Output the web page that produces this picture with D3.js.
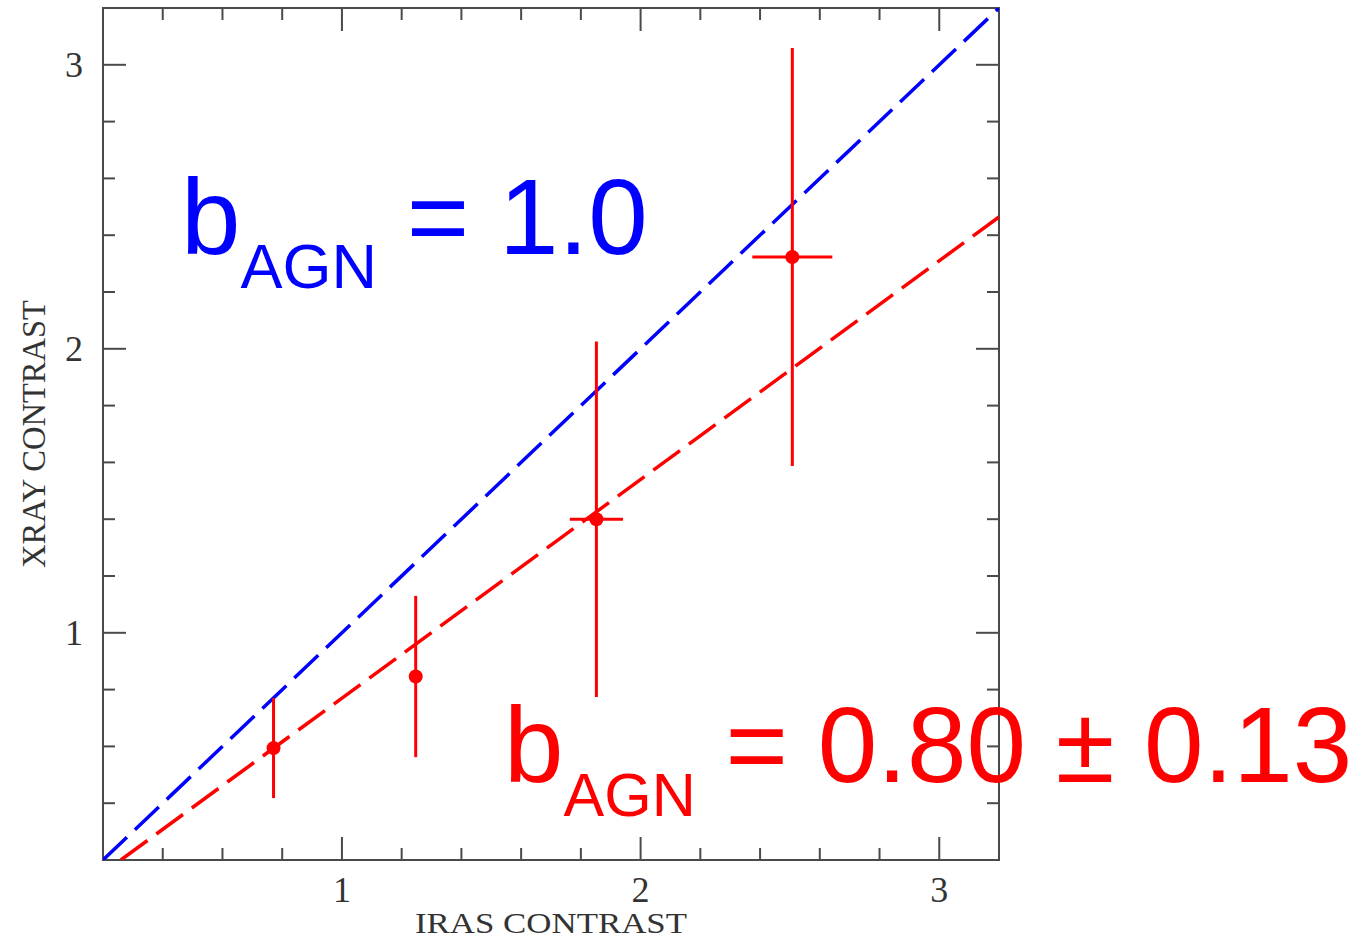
<!DOCTYPE html>
<html>
<head>
<meta charset="utf-8">
<script src="https://cdn.jsdelivr.net/npm/d3@7"></script>
<style>
  body { margin: 0; background: #fff; }
  .frame { fill: none; stroke: #4a4a4a; stroke-width: 2; }
  .tick { stroke: #4a4a4a; stroke-width: 2; }
  .ticklabel, .axislabel { font-family: "Liberation Serif", "DejaVu Serif", serif; fill: #333; }
  .big { font-family: "Liberation Sans", Arial, sans-serif; }
</style>
</head>
<body>
<div class="chart"></div>
<script>
// points
const irasContrast = [0.771, 1.247, 1.852, 2.508];
const irasErr      = [0.0,   0.0,   0.089, 0.134];
const xrayContrast = [0.594, 0.846, 1.400, 2.323];
const xrayErr      = [0.176, 0.284, 0.626, 0.736];

const majorTicks = [1, 2, 3];
const minorTicks = d3.range(2, 16).map(i => i / 5);
const axisDomain = [0.2, 3.2];

const unitySlope = 1.0;   // blue
const fitSlope = 0.77;    // red, drawn slope of the fit

const W = 1366, H = 943;
const margin = { left: 103, right: 367, top: 8, bottom: 83 };

const svg = d3.select(".chart").append("svg")
    .attr("width", W)
    .attr("height", H);

const x = d3.scaleLinear().domain(axisDomain).range([margin.left, W - margin.right]);
const y = d3.scaleLinear().domain(axisDomain).range([H - margin.bottom, margin.top]);

svg.append("clipPath").attr("id", "plotclip")
    .append("rect")
    .attr("x", x(axisDomain[0])).attr("y", y(axisDomain[1]))
    .attr("width", x(axisDomain[1]) - x(axisDomain[0]))
    .attr("height", y(axisDomain[0]) - y(axisDomain[1]));

// ticks on all four sides, pointing in
const tickG = svg.append("g");
function drawTicks(vals, len) {
    vals.forEach(v => {
        tickG.append("line").attr("class", "tick")
            .attr("x1", x(v)).attr("x2", x(v))
            .attr("y1", y(axisDomain[0])).attr("y2", y(axisDomain[0]) - len);
        tickG.append("line").attr("class", "tick")
            .attr("x1", x(v)).attr("x2", x(v))
            .attr("y1", y(axisDomain[1])).attr("y2", y(axisDomain[1]) + len);
        tickG.append("line").attr("class", "tick")
            .attr("y1", y(v)).attr("y2", y(v))
            .attr("x1", x(axisDomain[0])).attr("x2", x(axisDomain[0]) + len);
        tickG.append("line").attr("class", "tick")
            .attr("y1", y(v)).attr("y2", y(v))
            .attr("x1", x(axisDomain[1])).attr("x2", x(axisDomain[1]) - len);
    });
}
drawTicks(minorTicks.filter(v => !majorTicks.includes(v)), 12);
drawTicks(majorTicks, 23);

svg.append("g").selectAll("text").data(majorTicks).enter().append("text")
    .attr("class", "ticklabel")
    .attr("x", d => x(d))
    .attr("y", y(axisDomain[0]) + 42)
    .attr("text-anchor", "middle")
    .attr("font-size", 36)
    .text(d => d);

svg.append("g").selectAll("text").data(majorTicks).enter().append("text")
    .attr("class", "ticklabel")
    .attr("x", 74)
    .attr("y", d => y(d) + 12)
    .attr("text-anchor", "middle")
    .attr("font-size", 36)
    .text(d => d);

svg.append("text").attr("class", "axislabel")
    .attr("x", (x(axisDomain[0]) + x(axisDomain[1])) / 2)
    .attr("y", 933)
    .attr("text-anchor", "middle")
    .attr("font-size", 30)
    .attr("textLength", 272)
    .attr("lengthAdjust", "spacingAndGlyphs")
    .text("IRAS  CONTRAST");

svg.append("text").attr("class", "axislabel")
    .attr("transform", `translate(45, ${(y(axisDomain[0]) + y(axisDomain[1])) / 2}) rotate(-90)`)
    .attr("text-anchor", "middle")
    .attr("font-size", 34)
    .attr("textLength", 268)
    .attr("lengthAdjust", "spacingAndGlyphs")
    .text("XRAY  CONTRAST");

svg.append("rect").attr("class", "frame")
    .attr("x", x(axisDomain[0])).attr("y", y(axisDomain[1]))
    .attr("width", x(axisDomain[1]) - x(axisDomain[0]))
    .attr("height", y(axisDomain[0]) - y(axisDomain[1]));

// dashed lines through the origin
const plot = svg.append("g").attr("clip-path", "url(#plotclip)");
const line = d3.line().x(d => x(d[0])).y(d => y(d[1]));

function slopeLine(slope, color) {
    const x0 = Math.max(axisDomain[0], axisDomain[0] / slope);
    const x1 = axisDomain[1];
    plot.append("path")
        .attr("d", line([[x0, slope * x0], [x1, slope * x1]]))
        .attr("fill", "none")
        .attr("stroke", color)
        .attr("stroke-width", 3.5)
        .attr("stroke-dasharray", "33,11");
}
slopeLine(unitySlope, "#0000ff");
slopeLine(fitSlope, "#ff0000");

// error bars + points
const pts = irasContrast.map((v, i) => ({ x: v, y: xrayContrast[i], ex: irasErr[i], ey: xrayErr[i] }));
const pg = plot.append("g").selectAll("g").data(pts).enter().append("g");
pg.append("line")
    .attr("x1", d => x(d.x)).attr("x2", d => x(d.x))
    .attr("y1", d => y(d.y - d.ey)).attr("y2", d => y(d.y + d.ey))
    .attr("stroke", "#ff0000").attr("stroke-width", 3);
pg.filter(d => d.ex > 0).append("line")
    .attr("x1", d => x(d.x - d.ex)).attr("x2", d => x(d.x + d.ex))
    .attr("y1", d => y(d.y)).attr("y2", d => y(d.y))
    .attr("stroke", "#ff0000").attr("stroke-width", 3);
pg.append("circle")
    .attr("cx", d => x(d.x)).attr("cy", d => y(d.y))
    .attr("r", 7)
    .attr("fill", "#ff0000");

// annotations
function label(xpos, ypos, size, subSize, rest, color) {
    const t = svg.append("text").attr("class", "big")
        .attr("x", xpos).attr("y", ypos)
        .attr("font-size", size)
        .attr("fill", color);
    t.append("tspan").text("b");
    t.append("tspan").attr("font-size", subSize).attr("dy", 34).text("AGN");
    t.append("tspan").attr("dy", -34).text(rest);
}
label(181, 254, 107, 63, " = 1.0", "#0000ff");
label(504, 782, 107, 61, " = 0.80 \u00b1 0.13", "#ff0000");
</script>
</body>
</html>
